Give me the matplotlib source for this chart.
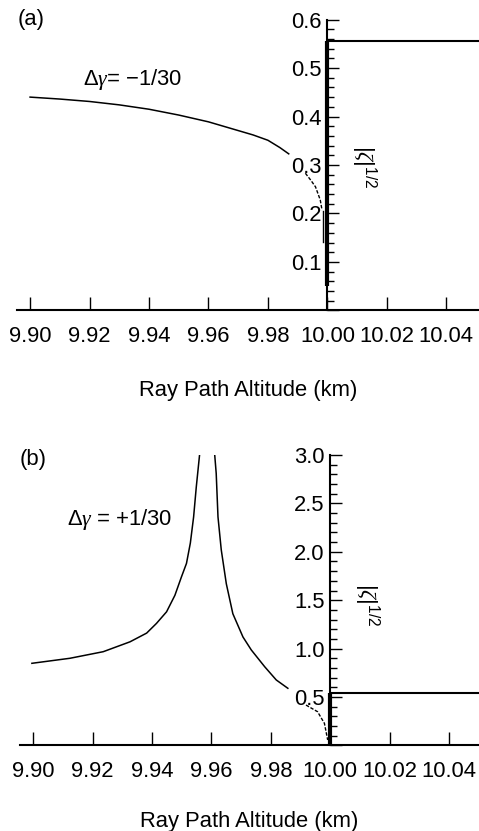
"""
Two panels of |zeta|^(1/2) against ray path altitude, with the y axis
drawn at 10.00 km.
"""

import matplotlib
matplotlib.use('Agg')
import matplotlib.pyplot as plt
from matplotlib.ticker import MultipleLocator

plt.rcParams['font.family'] = ['Liberation Sans', 'DejaVu Sans']
plt.rcParams['mathtext.fontset'] = 'custom'
plt.rcParams['mathtext.rm'] = 'Liberation Sans'
plt.rcParams['mathtext.it'] = 'Liberation Serif:italic'

# panel (a), delta gamma = -1/30
alt_a_curve = [9.900, 9.910, 9.920, 9.930, 9.940, 9.950, 9.960, 9.970,
               9.975, 9.980, 9.984, 9.987]
zeta_a_curve = [0.440, 0.436, 0.431, 0.424, 0.415, 0.403, 0.389, 0.371,
                0.362, 0.351, 0.336, 0.323]
alt_a_dash = [9.9926, 9.9945, 9.9960, 9.9976, 9.9982]
zeta_a_dash = [0.283, 0.268, 0.255, 0.228, 0.207]
alt_a_drop = [9.9984, 9.9984]
zeta_a_drop = [0.205, 0.142]
alt_a_wall = [10.0, 10.0]
zeta_a_wall = [0.556, 0.05]
alt_a_flat = [10.0, 10.051]
zeta_a_flat = [0.556, 0.556]

# panel (b), delta gamma = +1/30
alt_b_left = [9.8996, 9.9124, 9.9236, 9.9326, 9.9382, 9.9415, 9.9449,
              9.9477, 9.9499, 9.9516, 9.9529, 9.9540, 9.9549, 9.9560]
zeta_b_left = [0.848, 0.900, 0.968, 1.07, 1.16, 1.26, 1.38, 1.55, 1.74,
               1.88, 2.09, 2.36, 2.67, 3.0]
alt_b_right = [9.9611, 9.9616, 9.9622, 9.9633, 9.9650, 9.9672, 9.9706,
               9.9734, 9.9779, 9.9818, 9.9857]
zeta_b_right = [3.0, 2.81, 2.36, 2.02, 1.67, 1.36, 1.12, 0.986, 0.813,
                0.676, 0.59]
alt_b_dash = [9.9918, 9.9957, 9.9980, 9.9991]
zeta_b_dash = [0.417, 0.348, 0.228, 0.056]
alt_b_wall = [10.0, 10.0]
zeta_b_wall = [0.545, 0.0]
alt_b_flat = [10.0, 10.050]
zeta_b_flat = [0.545, 0.545]

x_ticks = [9.90, 9.92, 9.94, 9.96, 9.98, 10.00, 10.02, 10.04]
FS = 15.8


def style_axes(ax, xlim, ylim, major, minor, labelpad):
    """
    Put the y spine at 10.00 km, ticks pointing right, x ticks pointing up.
    """
    ax.set_xlim(*xlim)
    ax.set_ylim(*ylim)
    ax.spines['left'].set_position(('data', 10.0))
    ax.spines['top'].set_visible(False)
    ax.spines['right'].set_visible(False)
    ax.spines['left'].set_linewidth(1.5)
    ax.spines['bottom'].set_linewidth(1.5)

    ax.set_xticks(x_ticks)
    ax.set_xticklabels([f'{t:.2f}' for t in x_ticks])
    ax.yaxis.set_major_locator(MultipleLocator(major))
    ax.yaxis.set_minor_locator(MultipleLocator(minor))
    ax.yaxis.set_major_formatter(lambda v, p: '' if v == 0 else f'{v:.1f}')

    ax.tick_params(axis='x', direction='in', length=9.4, width=1.0,
                   pad=11, labelsize=FS)
    ax.tick_params(axis='y', which='major', direction='in', length=8.6,
                   width=1.0, pad=4, labelsize=FS)
    ax.tick_params(axis='y', which='minor', direction='in', length=5,
                   width=1.0)
    ax.set_xlabel('Ray Path Altitude (km)', fontsize=FS, labelpad=labelpad)
    ax.patch.set_alpha(0)


def main():
    fig = plt.figure(figsize=(4.79, 8.31), dpi=100)

    # panel (a)
    ax = fig.add_axes([17 / 479, 0.6264, 462 / 479, 0.3501])
    style_axes(ax, (9.8956, 10.051), (0, 0.6), 0.1, 0.02, 24)
    ax.plot(alt_a_curve, zeta_a_curve, color='black', lw=1.1)
    ax.plot(alt_a_dash, zeta_a_dash, color='black', lw=1.0,
            linestyle=(0, (2.5, 1.2)))
    ax.plot(alt_a_drop, zeta_a_drop, color='black', lw=1.0)
    ax.plot(alt_a_wall, zeta_a_wall, color='black', lw=3.0,
            solid_capstyle='butt')
    ax.plot(alt_a_flat, zeta_a_flat, color='black', lw=1.5,
            solid_capstyle='butt')
    fig.text(18 / 479, 1 - 20 / 831, '(a)', fontsize=FS, va='center')
    fig.text(83 / 479, 1 - 80 / 831, '$\\Delta\\gamma$= \u22121/30',
             fontsize=FS, va='center')
    fig.text(364 / 479, 1 - 167 / 831, r'$|\zeta|^{1/2}$', fontsize=16,
             rotation=270, ha='center', va='center')

    # panel (b)
    ax = fig.add_axes([20 / 479, 0.1030, 459 / 479, 0.3495])
    style_axes(ax, (9.8956, 10.050), (0, 3.0), 0.5, 0.1, 21)
    ax.plot(alt_b_left, zeta_b_left, color='black', lw=1.1)
    ax.plot(alt_b_right, zeta_b_right, color='black', lw=1.1)
    ax.plot(alt_b_dash, zeta_b_dash, color='black', lw=1.0,
            linestyle=(0, (2.5, 1.2)))
    ax.plot(alt_b_wall, zeta_b_wall, color='black', lw=3.0,
            solid_capstyle='butt')
    ax.plot(alt_b_flat, zeta_b_flat, color='black', lw=1.5,
            solid_capstyle='butt')
    fig.text(20 / 479, 1 - 459 / 831, '(b)', fontsize=FS, va='center')
    fig.text(67 / 479, 1 - 520 / 831, '$\\Delta\\gamma$ = +1/30',
             fontsize=FS, va='center')
    fig.text(367 / 479, 1 - 605 / 831, r'$|\zeta|^{1/2}$', fontsize=16,
             rotation=270, ha='center', va='center')

    fig.savefig('out.png', dpi=100)


if __name__ == '__main__':
    main()
